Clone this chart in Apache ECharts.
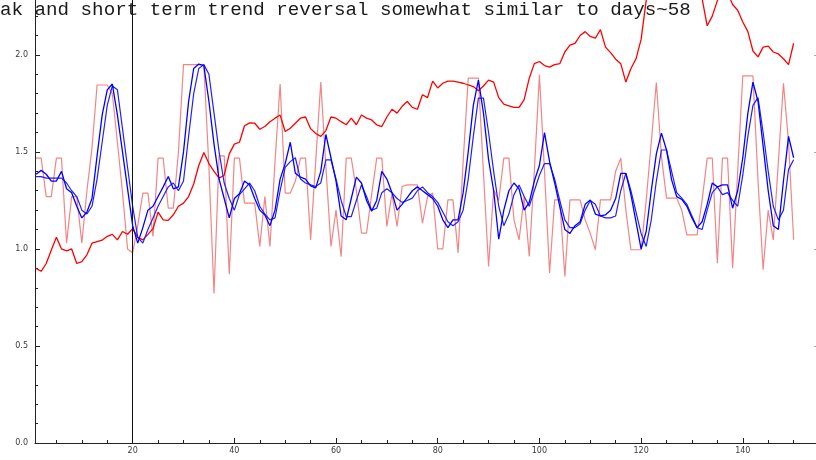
<!DOCTYPE html>
<html>
<head>
<meta charset="utf-8">
<script src="https://cdn.jsdelivr.net/npm/echarts@6/dist/echarts.min.js"></script>
<style>
  html, body { margin: 0; padding: 0; background: #fff; }
  #chart { width: 816px; height: 460px; }
</style>
</head>
<body>
<div id="chart"></div>
<script>
// Long-term trend (dark red)
const trend = [
  0.90, 0.885, 0.925, 0.995, 1.06, 1.00, 0.99, 1.00, 0.925, 0.935,
  0.97, 1.03, 1.038, 1.045, 1.065, 1.075, 1.047, 1.09, 1.076, 1.105,
  1.06, 1.047, 1.075, 1.105, 1.19, 1.15, 1.147, 1.176, 1.22, 1.236,
  1.27, 1.335, 1.43, 1.497, 1.44, 1.40, 1.365, 1.38, 1.49, 1.54,
  1.55, 1.635, 1.65, 1.648, 1.617, 1.631, 1.656, 1.674, 1.69, 1.605,
  1.622, 1.648, 1.674, 1.68, 1.62, 1.595, 1.58, 1.61, 1.68, 1.674,
  1.656, 1.64, 1.674, 1.64, 1.69, 1.674, 1.665, 1.64, 1.631, 1.68,
  1.72, 1.70, 1.735, 1.76, 1.73, 1.72, 1.795, 1.78, 1.865, 1.83,
  1.854, 1.865, 1.865, 1.86, 1.854, 1.845, 1.837, 1.815, 1.84, 1.87,
  1.86, 1.78, 1.746, 1.738, 1.73, 1.73, 1.77, 1.88, 1.955, 1.966,
  1.945, 1.937, 1.95, 1.955, 2.015, 2.05, 2.06, 2.10, 2.12, 2.095,
  2.086, 2.13, 2.04, 2.012, 1.978, 1.955, 1.86, 1.93, 1.98, 2.08,
  2.28, 2.38, 2.42, 2.36, 2.44, 2.40, 2.46, 2.42, 2.38, 2.40,
  2.35, 2.29, 2.15, 2.20, 2.28, 2.33, 2.32, 2.26, 2.23, 2.17,
  2.12, 2.02, 1.99, 2.04, 2.045, 2.015, 2.005, 1.98, 1.95, 2.06
];

// Daily ratio (light red)
const daily = [
  1.468, 1.468, 1.27, 1.27, 1.468, 1.468, 1.03, 1.27, 1.27, 1.03,
  1.30, 1.52, 1.845, 1.845, 1.845, 1.80, 1.55, 1.29, 1.00, 0.98,
  1.12, 1.288, 1.288, 1.064, 1.468, 1.468, 1.21, 1.21, 1.50, 1.95,
  1.95, 1.95, 1.95, 1.95, 1.42, 0.77, 1.48, 1.48, 0.87, 1.468,
  1.468, 1.236, 1.236, 1.236, 1.013, 1.27, 1.013, 1.45, 1.85, 1.288,
  1.288, 1.35, 1.468, 1.468, 1.047, 1.45, 1.86, 1.425, 1.013, 1.20,
  0.96, 1.468, 1.468, 1.30, 1.082, 1.082, 1.28, 1.468, 1.468, 1.116,
  1.285, 1.116, 1.322, 1.33, 1.33, 1.33, 1.133, 1.27, 1.288, 1.0,
  1.0, 1.253, 1.253, 0.98, 1.45, 1.88, 1.88, 1.88, 1.39, 0.91,
  1.305, 1.25, 1.468, 1.468, 1.15, 1.047, 1.27, 0.961, 1.4, 1.897,
  1.40, 0.876, 1.253, 1.253, 0.858, 1.253, 1.253, 1.253, 1.15, 1.08,
  0.996, 1.253, 1.253, 1.253, 1.40, 1.468, 1.2, 0.996, 0.996, 0.996,
  1.25, 1.55, 1.858, 1.476, 1.262, 1.262, 1.262, 1.2, 1.073, 1.073,
  1.073, 1.25, 1.468, 1.468, 0.927, 1.468, 1.468, 0.901, 1.4, 1.892,
  1.892, 1.892, 1.35, 0.893, 1.2, 1.047, 1.45, 1.854, 1.55, 1.047
];

// Short smoothing (blue)
const smoothShort = [
  1.385, 1.405, 1.385, 1.35, 1.35, 1.40, 1.31, 1.29, 1.22, 1.16,
  1.19, 1.26, 1.48, 1.69, 1.82, 1.85, 1.69, 1.50, 1.31, 1.12,
  1.03, 1.11, 1.20, 1.22, 1.27, 1.32, 1.373, 1.31, 1.32, 1.50,
  1.76, 1.93, 1.953, 1.945, 1.76, 1.54, 1.36, 1.26, 1.16, 1.26,
  1.285, 1.35, 1.33, 1.26, 1.20, 1.175, 1.12, 1.20, 1.36, 1.44,
  1.55, 1.39, 1.37, 1.36, 1.325, 1.315, 1.40, 1.59, 1.47, 1.35,
  1.17, 1.15, 1.26, 1.37, 1.34, 1.25, 1.195, 1.25, 1.40, 1.36,
  1.29, 1.20, 1.23, 1.265, 1.30, 1.32, 1.30, 1.28, 1.26, 1.22,
  1.15, 1.11, 1.15, 1.15, 1.29, 1.50, 1.74, 1.87, 1.70, 1.46,
  1.30, 1.05, 1.20, 1.30, 1.34, 1.31, 1.20, 1.24, 1.35, 1.43,
  1.60, 1.45, 1.34, 1.22, 1.10, 1.08, 1.12, 1.14, 1.23, 1.253,
  1.18, 1.17, 1.176, 1.20, 1.26, 1.39, 1.39, 1.28, 1.14, 1.00,
  1.09, 1.30, 1.49, 1.597, 1.51, 1.356, 1.27, 1.255, 1.22, 1.16,
  1.11, 1.14, 1.23, 1.34, 1.32, 1.33, 1.33, 1.21, 1.30, 1.47,
  1.70, 1.86, 1.76, 1.53, 1.30, 1.12, 1.10, 1.35, 1.58, 1.47
];

// Longer smoothing (blue)
const smoothLong = [
  1.373, 1.373, 1.365, 1.365, 1.365, 1.365, 1.34, 1.30, 1.27, 1.20,
  1.18, 1.22, 1.36, 1.55, 1.74, 1.84, 1.82, 1.62, 1.42, 1.22,
  1.06, 1.03, 1.10, 1.16, 1.22, 1.27, 1.32, 1.34, 1.30, 1.35,
  1.58, 1.80, 1.93, 1.95, 1.90, 1.70, 1.50, 1.34, 1.26, 1.20,
  1.28, 1.31, 1.34, 1.30, 1.22, 1.18, 1.15, 1.16, 1.30, 1.42,
  1.45, 1.47, 1.36, 1.34, 1.33, 1.322, 1.34, 1.459, 1.459, 1.36,
  1.25, 1.167, 1.167, 1.25, 1.33, 1.27, 1.20, 1.21, 1.29, 1.31,
  1.29, 1.26, 1.24, 1.25, 1.262, 1.30, 1.32, 1.29, 1.27, 1.24,
  1.19, 1.14, 1.12, 1.14, 1.20, 1.36, 1.58, 1.777, 1.777, 1.60,
  1.40, 1.22, 1.12, 1.18, 1.28, 1.33, 1.27, 1.22, 1.30, 1.38,
  1.44, 1.44, 1.36, 1.25, 1.15, 1.11, 1.11, 1.13, 1.20, 1.25,
  1.23, 1.17, 1.16, 1.16, 1.17, 1.30, 1.39, 1.30, 1.19, 1.08,
  1.013, 1.15, 1.35, 1.51, 1.51, 1.40, 1.29, 1.262, 1.23, 1.17,
  1.11, 1.10, 1.20, 1.29, 1.32, 1.28, 1.29, 1.25, 1.22, 1.38,
  1.58, 1.74, 1.78, 1.60, 1.40, 1.22, 1.15, 1.20, 1.41, 1.46
];

const xMajorTicks = [20, 40, 60, 80, 100, 120, 140];
const xMinorTicks = [5, 10, 15, 25, 30, 35, 45, 50, 55, 65, 70, 75, 85, 90, 95,
  105, 110, 115, 125, 130, 135, 145, 150];
const yMajorTicks = [0, 0.5, 1.0, 1.5, 2.0];
const yMinorTicks = [0.1, 0.2, 0.3, 0.4, 0.6, 0.7, 0.8, 0.9, 1.1, 1.2, 1.3, 1.4,
  1.6, 1.7, 1.8, 1.9, 2.1, 2.2];
const frameTicks = [0.5, 1.0, 1.5, 2.0];
const markerDay = 20;
const heading = 'ak and short term trend reversal somewhat similar to days~58';

const X_MIN = 0.79, X_MAX = 154.4;
const Y_MIN = 0, Y_MAX = 2.283;

const days = trend.map((_, i) => i + 1);
const pairs = arr => arr.map((v, i) => [days[i], v]);

const axisColor = '#222';
const labelStyle = { fontSize: 8, color: '#3a3a3a', fontFamily: 'DejaVu Sans' };

const chart = echarts.init(document.getElementById('chart'), null, { renderer: 'canvas' });

function xAxisBase(extra) {
  return Object.assign({
    type: 'value', min: X_MIN, max: X_MAX, position: 'bottom',
    splitLine: { show: false }
  }, extra);
}
function yAxisBase(extra) {
  return Object.assign({
    type: 'value', min: Y_MIN, max: Y_MAX,
    splitLine: { show: false }
  }, extra);
}

chart.setOption({
  animation: false,
  backgroundColor: '#fff',
  grid: { left: 35, right: 0, top: 0, bottom: 17, containLabel: false },
  xAxis: [
    xAxisBase({
      axisLine: { show: true, lineStyle: { color: axisColor, width: 1 } },
      axisTick: { show: true, inside: true, length: 5, customValues: xMajorTicks,
        lineStyle: { color: axisColor, width: 1 } },
      axisLabel: Object.assign({ customValues: xMajorTicks, margin: 4 }, labelStyle)
    }),
    xAxisBase({
      axisLine: { show: false },
      axisTick: { show: true, inside: true, length: 3, customValues: xMinorTicks,
        lineStyle: { color: axisColor, width: 1 } },
      axisLabel: { show: false }
    })
  ],
  yAxis: [
    yAxisBase({
      position: 'left',
      axisLine: { show: true, lineStyle: { color: axisColor, width: 1 } },
      axisTick: { show: true, inside: true, length: 5, customValues: yMajorTicks,
        lineStyle: { color: axisColor, width: 1 } },
      axisLabel: Object.assign({ customValues: yMajorTicks, margin: 7,
        formatter: v => v.toFixed(1) }, labelStyle)
    }),
    yAxisBase({
      position: 'left',
      axisLine: { show: false },
      axisTick: { show: true, inside: true, length: 3, customValues: yMinorTicks,
        lineStyle: { color: axisColor, width: 1 } },
      axisLabel: { show: false }
    }),
    yAxisBase({
      position: 'right',
      axisLine: { show: false },
      axisTick: { show: true, inside: true, length: 2, customValues: frameTicks,
        lineStyle: { color: '#aaa', width: 1 } },
      axisLabel: { show: false }
    })
  ],
  graphic: [{
    type: 'text',
    x: 0, y: 0,
    z: 100,
    style: {
      text: heading,
      fontFamily: 'Liberation Mono',
      fontSize: 19.2,
      fill: '#1a1a1a',
      verticalAlign: 'top',
      align: 'left'
    }
  }],
  series: [
    {
      name: 'daily', type: 'line', data: pairs(daily),
      showSymbol: false, symbol: 'none', z: 2,
      lineStyle: { color: '#f07070', width: 1.2, opacity: 0.85 },
      markLine: {
        silent: true, symbol: 'none', label: { show: false },
        lineStyle: { color: '#111', width: 1, type: 'solid' },
        data: [{ xAxis: markerDay }]
      }
    },
    {
      name: 'trend', type: 'line', data: pairs(trend),
      showSymbol: false, symbol: 'none', z: 3,
      lineStyle: { color: '#ff0000', width: 1.3 }
    },
    {
      name: 'smoothLong', type: 'line', data: pairs(smoothLong),
      showSymbol: false, symbol: 'none', z: 4,
      lineStyle: { color: '#2020ff', width: 1.2 }
    },
    {
      name: 'smoothShort', type: 'line', data: pairs(smoothShort),
      showSymbol: false, symbol: 'none', z: 5,
      lineStyle: { color: '#0000ff', width: 1.3 }
    }
  ]
});
</script>
</body>
</html>
